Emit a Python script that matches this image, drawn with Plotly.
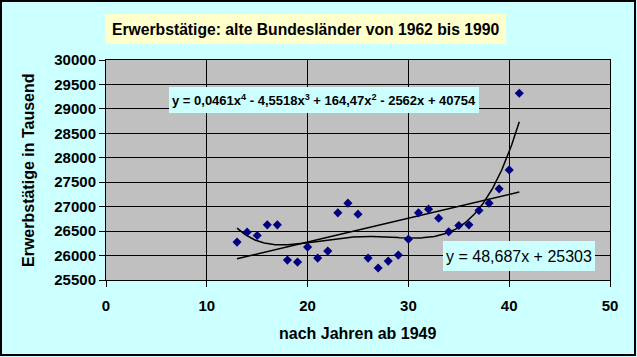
import numpy as np
import plotly.graph_objects as go

# data: years after 1949 and employed persons (thousands)
jahre = [13, 14, 15, 16, 17, 18, 19, 20, 21, 22, 23, 24, 25, 26, 27, 28, 29, 30,
         31, 32, 33, 34, 35, 36, 37, 38, 39, 40, 41]
erwerbstaetige = [26275, 26479, 26410, 26628, 26628, 25907, 25866, 26173, 25948,
                  26091, 26874, 27072, 26847, 25948, 25744, 25887, 26009, 26336,
                  26874, 26949, 26765, 26486, 26614, 26628, 26921, 27072, 27364,
                  27752, 29320]
# trendline coefficients as shown in the chart
poly_coef = [0.0461, -4.5518, 164.47, -2562, 40754]
lin_coef = [48.687, 25303]
poly_label = "y = 0,0461x<sup>4</sup> - 4,5518x<sup>3</sup> + 164,47x<sup>2</sup> - 2562x + 40754"
lin_label = "y = 48,687x + 25303"
title_text = "Erwerbstätige: alte Bundesländer von 1962 bis 1990"
x_title = "nach Jahren ab 1949"
y_title = "Erwerbstätige in Tausend"
x_ticks = [0, 10, 20, 30, 40, 50]
y_ticks = list(range(25500, 30001, 500))

W, H = 637, 357
L, R, T, B = 106, 27, 60, 77
PW, PH = W - L - R, H - T - B


def px(x):
    return (x - L) / PW


def py(y):
    return (H - B - y) / PH


xs = np.linspace(min(jahre), max(jahre), 300)
fig = go.Figure()
fig.add_trace(go.Scatter(x=xs, y=np.polyval(poly_coef, xs), mode="lines",
                         line=dict(color="black", width=1.5), hoverinfo="skip"))
fig.add_trace(go.Scatter(x=xs, y=np.polyval(lin_coef, xs), mode="lines",
                         line=dict(color="black", width=1.5), hoverinfo="skip"))
fig.add_trace(go.Scatter(x=jahre, y=erwerbstaetige, mode="markers",
                         marker=dict(symbol="diamond", size=7, color="#000080")))

font = "Liberation Sans, Arial, sans-serif"
fig.update_layout(
    width=W, height=H, showlegend=False,
    margin=dict(l=L, r=R, t=T, b=B),
    paper_bgcolor="#CCFFFF", plot_bgcolor="#C0C0C0",
    font=dict(family=font, size=15, color="black"),
    xaxis=dict(range=[0, 50], tickvals=x_ticks, showgrid=True, gridcolor="black",
               gridwidth=1, showline=True, linecolor="black", linewidth=1, mirror=True,
               ticks="outside", ticklen=6, tickcolor="black", zeroline=False,
               ticklabelstandoff=6,
               tickformat="d", tickfont=dict(size=15, weight="bold")),
    yaxis=dict(range=[25500, 30000], tickvals=y_ticks, showgrid=True, gridcolor="black",
               gridwidth=1, showline=True, linecolor="black", linewidth=1, mirror=True,
               ticks="outside", ticklen=6, tickcolor="black", zeroline=False,
               tickformat="d", tickfont=dict(size=15, weight="bold")),
)

shapes = [
    dict(type="rect", xref="paper", yref="paper", x0=px(105), x1=px(506), y0=py(14), y1=py(44),
         fillcolor="#FFFFCC", line=dict(width=0), layer="above"),
    dict(type="rect", xref="paper", yref="paper", x0=px(169), x1=px(479), y0=py(87), y1=py(113),
         fillcolor="#CCFFFF", line=dict(width=0), layer="above"),
    dict(type="rect", xref="paper", yref="paper", x0=px(443), x1=px(595), y0=py(241), y1=py(271),
         fillcolor="#CCFFFF", line=dict(width=0), layer="above"),
    dict(type="rect", xref="paper", yref="paper", x0=px(1), x1=px(635), y0=py(1), y1=py(355),
         line=dict(color="black", width=2), layer="above"),
]
fig.update_layout(shapes=shapes)

ann = [
    dict(text=title_text, x=px(305), y=py(29), font=dict(size=15.7, weight="bold")),
    dict(text=poly_label, x=px(324), y=py(100), font=dict(size=13, weight="bold")),
    dict(text=lin_label, x=px(519), y=py(256), font=dict(size=16)),
    dict(text=x_title, x=px(358), y=py(333), font=dict(size=16, weight="bold")),
    dict(text=y_title, x=px(28), y=py(170), font=dict(size=16, weight="bold"), textangle=-90),
]
for a in ann:
    fig.add_annotation(xref="paper", yref="paper", showarrow=False,
                       xanchor="center", yanchor="middle", **a)

fig.write_html("out.html", config={"displayModeBar": False},
               post_script="document.body.style.margin='0';document.body.style.overflow='hidden';")
